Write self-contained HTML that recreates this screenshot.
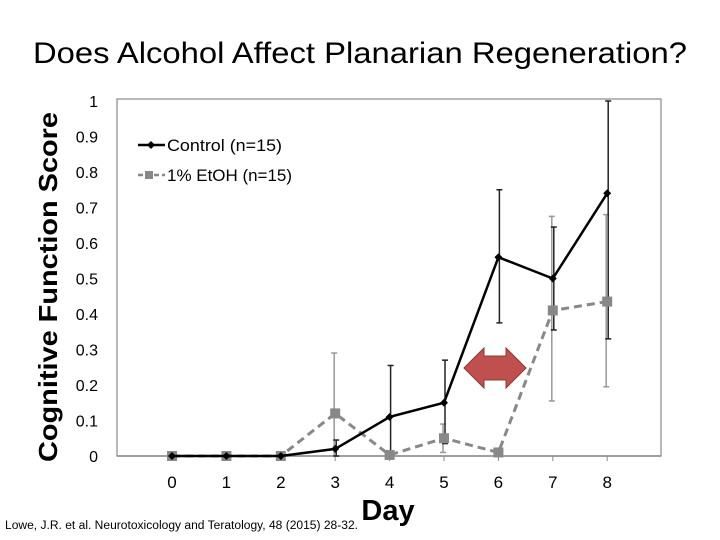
<!DOCTYPE html>
<html><head><meta charset="utf-8">
<style>
body{margin:0;background:#fff;}
svg{display:block;font-family:"Liberation Sans",sans-serif;}
</style></head>
<body>
<svg id="chart" width="720" height="540" viewBox="0 0 720 540">
<text x="33" y="63" textLength="654" lengthAdjust="spacingAndGlyphs" font-size="30" fill="#000">Does Alcohol Affect Planarian Regeneration?</text>
<rect x="117" y="99" width="544" height="357" fill="none" stroke="#888" stroke-width="1.2"/>
<g id="yticks"></g><g id="xticks"></g>
<g id="errs"></g><g id="lines"></g>
<text transform="translate(57,287) rotate(-90)" text-anchor="middle" textLength="350" lengthAdjust="spacingAndGlyphs" font-size="26" font-weight="bold" fill="#000">Cognitive Function Score</text>
<text x="388" y="520" text-anchor="middle" font-size="29" font-weight="bold" fill="#000">Day</text>
<text x="5" y="529" textLength="353" lengthAdjust="spacingAndGlyphs" font-size="11.5" fill="#000">Lowe, J.R. et al.  Neurotoxicology and Teratology, 48 (2015) 28-32.</text>
<g>
<line x1="138" y1="145" x2="165" y2="145" stroke="#000" stroke-width="2.5"/>
<path d="M147 145 l4 -4 l4 4 l-4 4z" fill="#000"/>
<text x="167" y="151" textLength="115" lengthAdjust="spacingAndGlyphs" font-size="17" fill="#000">Control (n=15)</text>
<line x1="138" y1="175" x2="165" y2="175" stroke="#888" stroke-width="2.5" stroke-dasharray="5,3"/>
<rect x="145" y="171" width="8" height="8" fill="#888"/>
<text x="167" y="181" textLength="125" lengthAdjust="spacingAndGlyphs" font-size="17" fill="#000">1% EtOH (n=15)</text>
</g>
<g>
<path d="M464 368 L484 348 L484 356 L506 356 L506 348 L526 368 L506 388 L506 380 L484 380 L484 388 Z" fill="#c0504d" stroke="#8c3836" stroke-width="1"/>
</g>
</svg>
<script>
const days=[0,1,2,3,4,5,6,7,8];
const yTicks=["0","0.1","0.2","0.3","0.4","0.5","0.6","0.7","0.8","0.9","1"];
const controlVals=[0,0,0,0.02,0.11,0.15,0.56,0.50,0.74];
const controlHi=[0,0,0,0.045,0.255,0.27,0.75,0.645,1.0];
const controlLo=[0,0,0,0,0,0.035,0.375,0.355,0.33];
const etohVals=[0,0,0,0.12,0.003,0.05,0.01,0.41,0.435];
const etohHi=[0,0,0,0.29,0.003,0.09,0.01,0.675,0.68];
const etohLo=[0,0,0,0,0.003,0.01,0.01,0.155,0.195];
const NS="http://www.w3.org/2000/svg";
const xS=d=>172+d*54.4;
const yS=v=>456-v*355;
function mk(tag,attrs,parent){const e=document.createElementNS(NS,tag);for(const k in attrs)e.setAttribute(k,attrs[k]);parent.appendChild(e);return e;}
const yt=document.getElementById('yticks');
yTicks.forEach((t,i)=>{const e=mk('text',{x:98,y:yS(+t)+6,'text-anchor':'end','font-size':'16',fill:'#000'},yt);e.textContent=t;

});
const xt=document.getElementById('xticks');
mk('line',{x1:117,y1:456,x2:661,y2:456,stroke:'#888','stroke-width':1.5},xt);
days.forEach(d=>{mk('line',{x1:xS(d),y1:456,x2:xS(d),y2:461,stroke:'#888'},xt);
const e=mk('text',{x:xS(d),y:488,'text-anchor':'middle','font-size':'17',fill:'#000'},xt);e.textContent=d;

});
const eg=document.getElementById('errs');
function errs(hi,lo,col,dx){days.forEach((d,i)=>{if(hi[i]-lo[i]<0.005)return;const x=xS(d)+dx;
mk('line',{x1:x,y1:yS(hi[i]),x2:x,y2:yS(lo[i]),stroke:col,'stroke-width':1.5},eg);
mk('line',{x1:x-3,y1:yS(hi[i]),x2:x+3,y2:yS(hi[i]),stroke:col,'stroke-width':1.5},eg);
mk('line',{x1:x-3,y1:yS(lo[i]),x2:x+3,y2:yS(lo[i]),stroke:col,'stroke-width':1.5},eg);});}
errs(etohHi,etohLo,'#999',-1);
errs(controlHi,controlLo,'#222',1);
const lg=document.getElementById('lines');
const ep=mk('polyline',{points:days.map((d,i)=>xS(d)+','+yS(etohVals[i])).join(' '),fill:'none',stroke:'#888','stroke-width':3,'stroke-dasharray':'8,5'},lg);


days.forEach((d,i)=>{const r=mk('rect',{x:xS(d)-5,y:yS(etohVals[i])-5,width:10,height:10,fill:'#888'},lg);

});
const cp=mk('polyline',{points:days.map((d,i)=>xS(d)+','+yS(controlVals[i])).join(' '),fill:'none',stroke:'#000','stroke-width':2.5},lg);


days.forEach((d,i)=>{const x=xS(d),y=yS(controlVals[i]);const p=mk('path',{d:`M${x-4} ${y} L${x} ${y-4} L${x+4} ${y} L${x} ${y+4}Z`,fill:'#000'},lg);

});
</script>
</body></html>
